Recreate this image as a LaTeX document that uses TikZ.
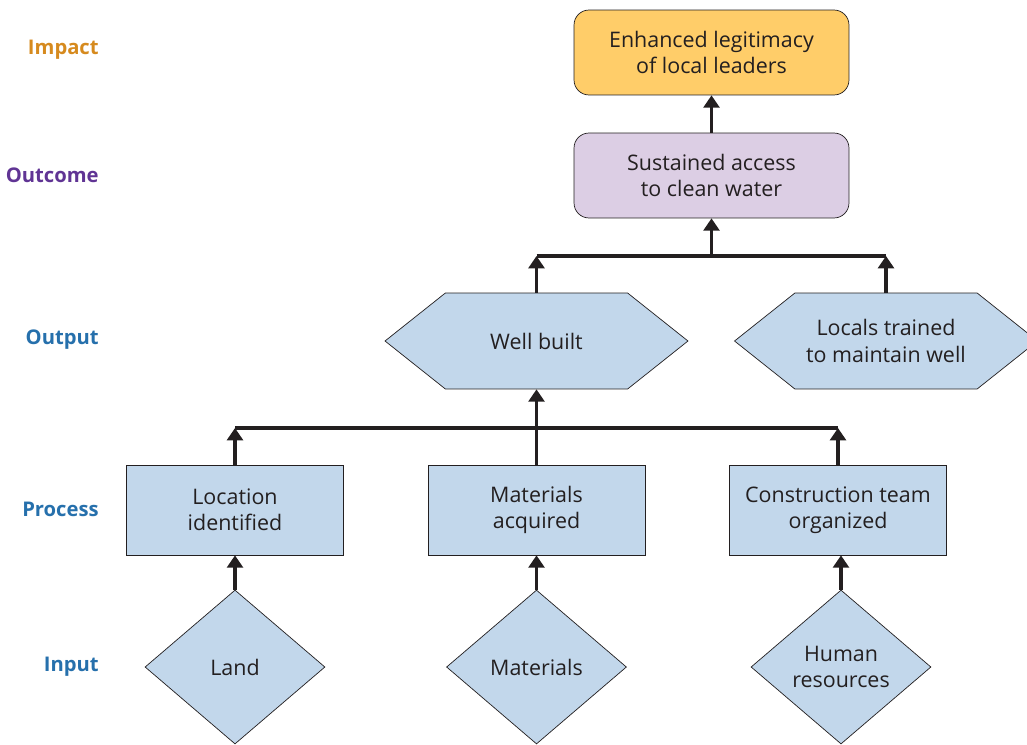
\documentclass[tikz,border=0pt]{standalone}
\usepackage{fontspec}
\setmainfont{Open Sans}
\usepackage{tikz}
\usetikzlibrary{shapes.geometric,shapes.symbols,arrows.meta}

\definecolor{ink}{RGB}{35,31,32}
\definecolor{boxblue}{RGB}{194,215,235}
\definecolor{impactfill}{RGB}{255,205,105}
\definecolor{outcomefill}{RGB}{220,206,228}
\definecolor{impactcol}{RGB}{214,138,30}
\definecolor{outcomecol}{RGB}{96,52,148}
\definecolor{levelblue}{RGB}{38,112,172}

\tikzset{
  txt/.style={font=\fontsize{12.2}{15}\selectfont, text=ink, align=center},
  level/.style={font=\fontsize{11.5}{14}\selectfont\bfseries, anchor=east, inner sep=0pt},
  roundbox/.style={txt, draw=ink, rounded corners=0.3cm, minimum width=5.5cm, minimum height=1.7cm},
  hexbox/.style={txt, draw=ink, fill=boxblue, signal, signal to=east and west, signal pointer angle=77, minimum width=6.06cm, minimum height=1.92cm},
  procbox/.style={txt, draw=ink, fill=boxblue, minimum width=4.34cm, minimum height=1.8cm},
  inbox/.style={txt, draw=ink, fill=boxblue, diamond, minimum width=3.6cm, minimum height=3.08cm, inner sep=0pt},
  arr/.style={ink, line width=2.2pt, -{Triangle[width=9pt,length=7pt]}},
  bar/.style={ink, line width=1.8pt}
}

\begin{document}
\begin{tikzpicture}[x=0.02cm, y=-0.02cm]
\useasboundingbox (0,0) rectangle (1027,744);
\clip (0,0) rectangle (1027,744);

% level names
\node[level, text=impactcol] (limpact) at (99,50) {Impact};
\node[level, text=outcomecol] (loutcome) at (99,175) {Outcome};
\node[level, text=levelblue] (loutput) at (99,340) {Output};
\node[level, text=levelblue] (lprocess) at (99,509) {Process};
\node[level, text=levelblue] (linput) at (99,667) {Input};

% boxes
\node[roundbox, fill=impactfill] (impact) at (711.5,52.5) {Enhanced legitimacy\\of local leaders};
\node[roundbox, fill=outcomefill] (outcome) at (711.5,175.5) {Sustained access\\to clean water};
\node[hexbox] (well) at (536.5,341) {Well built};
\node[hexbox] (locals) at (886,341) {Locals trained\\to maintain well};
\node[procbox] (locid) at (235,510) {Location\\identified};
\node[procbox] (matacq) at (536.5,510) {Materials\\acquired};
\node[procbox] (crew) at (838,510) {Construction team\\organized};
\node[inbox] (land) at (235,667) {Land};
\node[inbox] (mats) at (536.5,667) {Materials};
\node[inbox] (human) at (841,667) {Human\\resources};

\coordinate (lowbar) at (0,428);
\coordinate (highbar) at (0,256);

% inputs to processes
\draw[arr] (land.north) -- (land.north |- locid.south);
\draw[arr] (mats.north) -- (mats.north |- matacq.south);
\draw[arr] (human.north) -- (human.north |- crew.south);

% processes to output
\draw[bar] (locid.north |- lowbar) -- (crew.north |- lowbar);
\draw[arr] (locid.north) -- (locid.north |- lowbar);
\draw[arr] (crew.north) -- (crew.north |- lowbar);
\draw[arr] (matacq.north) -- (well.south);

% outputs to outcome
\draw[bar] (well.north |- highbar) -- (locals.north |- highbar);
\draw[arr] (well.north) -- (well.north |- highbar);
\draw[arr] (locals.north) -- (locals.north |- highbar);
\draw[arr] (outcome.south |- highbar) -- (outcome.south);

% outcome to impact
\draw[arr] (outcome.north) -- (impact.south);
\end{tikzpicture}
\end{document}
